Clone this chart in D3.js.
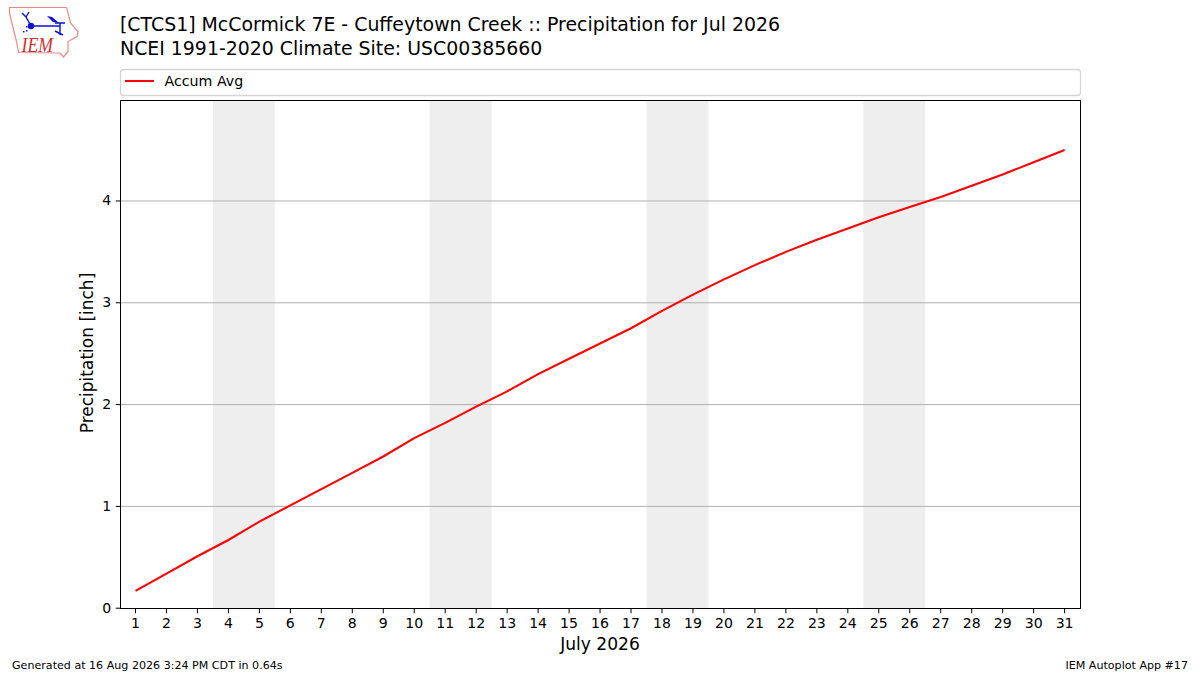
<!DOCTYPE html>
<html lang="en">
<head>
<meta charset="UTF-8">
<title>CTCS1 Precipitation</title>
<script src="https://cdn.jsdelivr.net/npm/d3@7"></script>
<style>
    html, body { margin: 0; padding: 0; background: #fff; }
    svg { display: block; }
    text { font-family: "DejaVu Sans", sans-serif; fill: #000; }
    .tick text { font-size: 14.1px; }
</style>
</head>
<body>
<div id="grafico"></div>
<script>
var days = d3.range(1, 32);
var accumAvg = [0.17, 0.34, 0.51, 0.67, 0.85, 1.01, 1.17, 1.33, 1.49, 1.67,
                1.82, 1.98, 2.13, 2.30, 2.45, 2.60, 2.75, 2.92, 3.08, 3.23,
                3.37, 3.50, 3.62, 3.73, 3.84, 3.94, 4.04, 4.15, 4.26, 4.38, 4.50];
var weekends = [[4, 5], [11, 12], [18, 19], [25, 26]];
var yTicks = [0, 1, 2, 3, 4];
var titleLines = ["[CTCS1] McCormick 7E - Cuffeytown Creek :: Precipitation for Jul 2026",
                  "NCEI 1991-2020 Climate Site: USC00385660"];

var w = 1200, h = 675;
var left = 120.5, right = 1080.5, top_ = 100.5, bottom = 608.5;

var svg = d3.select("#grafico").append("svg")
    .attr("width", w)
    .attr("height", h);

var x = d3.scaleLinear().domain([0.5157, 31.513]).range([left, right]);
var y = d3.scaleLinear().domain([-0.003, 4.987]).range([bottom, top_]);

// weekend bands
svg.selectAll(".weekend")
    .data(weekends)
    .enter()
    .append("rect")
    .attr("class", "weekend")
    .attr("x", function(d) { return x(d[0] - 0.5); })
    .attr("y", top_)
    .attr("width", function(d) { return x(d[1] + 0.5) - x(d[0] - 0.5); })
    .attr("height", bottom - top_)
    .attr("fill", "#eeeeee");

// grid
svg.selectAll(".grid")
    .data(yTicks.slice(1))
    .enter()
    .append("line")
    .attr("x1", left)
    .attr("x2", right)
    .attr("y1", function(d) { return y(d); })
    .attr("y2", function(d) { return y(d); })
    .attr("stroke", "#b0b0b0")
    .attr("stroke-width", 1);

var line = d3.line()
    .x(function(d, i) { return x(days[i]); })
    .y(function(d) { return y(d); });

svg.append("path")
    .datum(accumAvg)
    .attr("d", line)
    .attr("fill", "none")
    .attr("stroke", "#ff0000")
    .attr("stroke-width", 2.08);

// frame
svg.append("rect")
    .attr("x", left)
    .attr("y", top_)
    .attr("width", right - left)
    .attr("height", bottom - top_)
    .attr("fill", "none")
    .attr("stroke", "#000")
    .attr("stroke-width", 1);

var xAxis = svg.append("g")
    .attr("transform", "translate(0," + bottom + ")")
    .call(d3.axisBottom(x).tickValues(days).tickFormat(d3.format("d")).tickSize(4.8).tickPadding(4.5).offset(0));
xAxis.select(".domain").remove();

var yAxis = svg.append("g")
    .attr("transform", "translate(" + left + ",0)")
    .call(d3.axisLeft(y).tickValues(yTicks).tickFormat(d3.format("d")).tickSize(4.8).tickPadding(4.5).offset(0));
yAxis.select(".domain").remove();

svg.append("text")
    .text("July 2026")
    .attr("x", 600)
    .attr("y", 650)
    .attr("text-anchor", "middle")
    .style("font-size", "17.1px");

svg.append("text")
    .text("Precipitation [inch]")
    .attr("transform", "translate(92.5,353) rotate(-90)")
    .attr("text-anchor", "middle")
    .style("font-size", "17px");

// titles
svg.selectAll(".titulo")
    .data(titleLines)
    .enter()
    .append("text")
    .attr("class", "titulo")
    .text(function(d) { return d; })
    .attr("x", 120)
    .attr("y", function(d, i) { return 31 + i * 23.5; })
    .style("font-size", "18.9px");

// legend
svg.append("rect")
    .attr("x", 120.5)
    .attr("y", 69.5)
    .attr("width", 960)
    .attr("height", 26)
    .attr("rx", 3)
    .attr("fill", "#fff")
    .attr("stroke", "#d5d5d5")
    .attr("stroke-width", 1.3);

svg.append("line")
    .attr("x1", 125)
    .attr("x2", 154)
    .attr("y1", 81)
    .attr("y2", 81)
    .attr("stroke", "#ff0000")
    .attr("stroke-width", 2.08);

svg.append("text")
    .text("Accum Avg")
    .attr("x", 164.5)
    .attr("y", 86)
    .style("font-size", "14.2px");

// footer
svg.append("text")
    .text("Generated at 16 Aug 2026 3:24 PM CDT in 0.64s")
    .attr("x", 12)
    .attr("y", 669)
    .style("font-size", "11.1px");

svg.append("text")
    .text("IEM Autoplot App #17")
    .attr("x", 1188)
    .attr("y", 669)
    .attr("text-anchor", "end")
    .style("font-size", "11.1px");

// IEM logo
var logo = svg.append("g");
logo.append("path")
    .attr("d", "M9.5,7.5 L66.5,7.5 L68,13 L70.5,23 L78,31.5 L77,36.5 L68,41.5 L68,51.5 L63.5,57 L60,53 L18.5,52.5 L16.5,41.5 L11.5,21.5 L9.5,13 Z")
    .attr("fill", "none")
    .attr("stroke", "#e88a8a")
    .attr("stroke-width", 1.2);
logo.append("path")
    .attr("d", "M31,26 L60,26 M60,23 L60,35 M55,23 L65,23 M55,31 L63,35 M22,13 L26,17 L31,26 M26,17 L29,12")
    .attr("fill", "none")
    .attr("stroke", "#1010d0")
    .attr("stroke-width", 1.4);
logo.append("circle").attr("cx", 31).attr("cy", 26).attr("r", 3.2).attr("fill", "#1010d0");
logo.append("path").attr("d", "M47,16 L52,17 L59,23 L53,22 Z").attr("fill", "#1010d0");
logo.append("path").attr("d", "M23,31 h1.5 v1.5 h-1.5 Z M26,26 h1.5 v1.5 h-1.5 Z M26,30 h1.5 v1.5 h-1.5 Z").attr("fill", "#1010d0");
logo.append("text")
    .text("IEM")
    .attr("x", 21.5)
    .attr("y", 51.5)
    .attr("textLength", 31.5)
    .attr("lengthAdjust", "spacingAndGlyphs")
    .style("font-family", "'Liberation Serif', serif")
    .style("font-style", "italic")
    .style("font-size", "22px")
    .style("fill", "#d03030");
</script>
</body>
</html>
